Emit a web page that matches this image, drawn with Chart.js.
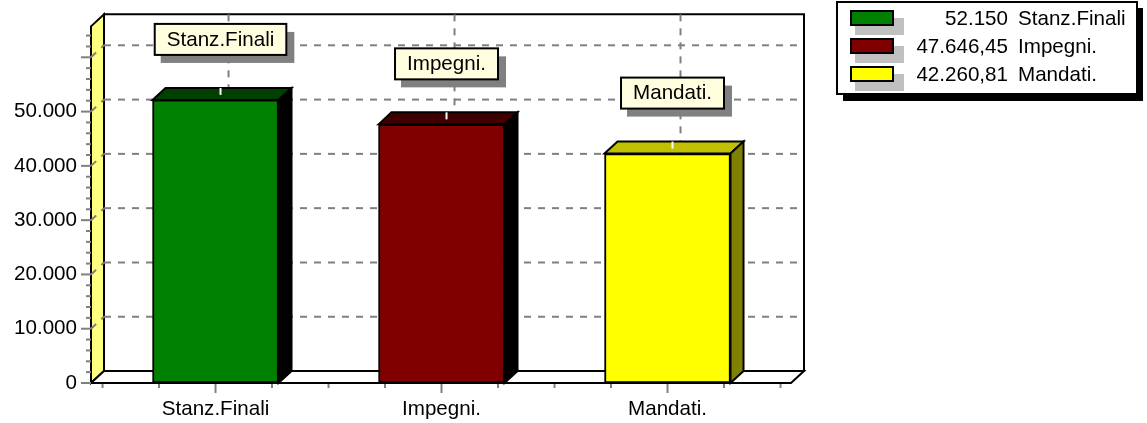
<!DOCTYPE html>
<html>
<head>
<meta charset="utf-8">
<title>Stanziamenti</title>
<script src="https://cdn.jsdelivr.net/npm/chart.js@4"></script>
<style>
html,body{margin:0;padding:0;background:#fff;}
canvas{display:block;}
</style>
</head>
<body>
<canvas id="myChart" width="1147" height="423"></canvas>
<script>
var categories = ['Stanz.Finali', 'Impegni.', 'Mandati.'];
var values = [52150, 47646.45, 42260.81];
var valueLabels = ['52.150', '47.646,45', '42.260,81'];
var yTickLabels = ['0', '10.000', '20.000', '30.000', '40.000', '50.000'];
var frontColors = ['#008000', '#800000', '#ffff00'];
var topColors = ['#004000', '#400000', '#c0c000'];
var sideColors = ['#000000', '#000000', '#808000'];

var FAMILY = '"Liberation Sans", Arial, sans-serif';
var FONT = '20.6px ' + FAMILY;
var DX = 13, DY = -12;   // depth of the fake 3d box

function poly(ctx, pts, fill) {
    ctx.beginPath();
    ctx.moveTo(pts[0][0], pts[0][1]);
    for (var i = 1; i < pts.length; i++) {
        ctx.lineTo(pts[i][0], pts[i][1]);
    }
    ctx.closePath();
    if (fill) {
        ctx.fillStyle = fill;
        ctx.fill();
    }
    ctx.strokeStyle = '#000';
    ctx.lineWidth = 2;
    ctx.stroke();
}

function seg(ctx, x1, y1, x2, y2) {
    ctx.beginPath();
    ctx.moveTo(x1, y1);
    ctx.lineTo(x2, y2);
    ctx.stroke();
}

var box3d = {
    id: 'box3d',
    beforeDatasetsDraw: function(chart) {
        var ctx = chart.ctx, a = chart.chartArea;
        var yS = chart.scales.y, xS = chart.scales.x;
        var i, v, y, x;
        ctx.save();

        // walls and floor
        poly(ctx, [[a.left + DX, a.top + DY], [a.right + DX, a.top + DY], [a.right + DX, a.bottom + DY], [a.left + DX, a.bottom + DY]], '#fff');
        poly(ctx, [[a.left, a.top], [a.left + DX, a.top + DY], [a.left + DX, a.bottom + DY], [a.left, a.bottom]], '#ffff80');
        poly(ctx, [[a.left, a.bottom], [a.left + DX, a.bottom + DY], [a.right + DX, a.bottom + DY], [a.right, a.bottom]], '#fff');

        // dashed grid on the walls
        ctx.strokeStyle = '#808080';
        ctx.lineWidth = 2;
        ctx.setLineDash([7, 7]);
        for (v = 10000; v <= 60000; v += 10000) {
            y = yS.getPixelForValue(v);
            seg(ctx, a.left, y, a.left + DX, y + DY);
            seg(ctx, a.left + DX, y + DY, a.right + DX, y + DY);
        }
        for (i = 0; i < categories.length; i++) {
            x = xS.getPixelForValue(i) + DX;
            seg(ctx, x, a.top + DY, x, a.bottom + DY);
        }
        ctx.setLineDash([]);

        // axis ticks, long every 10.000 and every category
        for (v = 0; v <= 64000; v += 2000) {
            y = yS.getPixelForValue(v);
            seg(ctx, a.left, y, a.left - (v % 10000 == 0 ? 10 : 5), y);
        }
        for (v = -0.5; v <= 2.5; v += 0.25) {
            x = xS.getPixelForValue(v);
            seg(ctx, x, a.bottom, x, a.bottom + (v % 1 == 0 ? 10 : 5));
        }

        // bar top and side faces
        var bars = chart.getDatasetMeta(0).data;
        for (i = 0; i < bars.length; i++) {
            var b = bars[i], l = b.x - b.width / 2, r = b.x + b.width / 2;
            poly(ctx, [[l, b.y], [l + DX, b.y + DY], [r + DX, b.y + DY], [r, b.y]], topColors[i]);
            poly(ctx, [[r, b.y], [r + DX, b.y + DY], [r + DX, b.base + DY], [r, b.base]], sideColors[i]);
            ctx.strokeStyle = '#fff';
            seg(ctx, b.x + 5, b.y + DY, b.x + 5, b.y + DY + 7);
        }
        ctx.restore();
    },
    afterDatasetsDraw: function(chart) {
        var ctx = chart.ctx, a = chart.chartArea;
        var bars = chart.getDatasetMeta(0).data;
        var i;
        ctx.save();
        ctx.strokeStyle = '#000';
        ctx.lineWidth = 2;
        seg(ctx, a.left, a.bottom, a.right, a.bottom);

        // callout over each bar
        ctx.font = FONT;
        ctx.textBaseline = 'middle';
        ctx.textAlign = 'center';
        for (i = 0; i < bars.length; i++) {
            var w = ctx.measureText(categories[i]).width + 24;
            var cx = bars[i].x + 5, top = bars[i].y - 76;
            ctx.fillStyle = '#808080';
            ctx.fillRect(cx - w / 2 + 6, top + 8, w + 2, 31);
            ctx.fillStyle = '#ffffe0';
            ctx.fillRect(cx - w / 2, top, w, 31);
            ctx.strokeRect(cx - w / 2, top, w, 31);
            ctx.fillStyle = '#000';
            ctx.fillText(categories[i], cx, top + 16);
        }

        // legend box
        ctx.fillStyle = '#000';
        ctx.fillRect(843, 8, 300, 93);
        ctx.fillStyle = '#fff';
        ctx.fillRect(837, 2, 300, 92);
        ctx.strokeRect(837, 2, 300, 92);
        for (i = 0; i < categories.length; i++) {
            var y = 18 + i * 28;
            ctx.fillStyle = '#c0c0c0';
            ctx.fillRect(855, y, 49, 17);
            ctx.fillStyle = frontColors[i];
            ctx.fillRect(851, y - 7, 42, 14);
            ctx.strokeRect(851, y - 7, 42, 14);
            ctx.fillStyle = '#000';
            ctx.textAlign = 'right';
            ctx.fillText(valueLabels[i], 1008, y + 1);
            ctx.textAlign = 'left';
            ctx.fillText(categories[i], 1018, y + 1);
        }
        ctx.restore();
    }
};

var ctx = document.getElementById('myChart').getContext('2d');
var myChart = new Chart(ctx, {
    type: 'bar',
    data: {
        datasets: [{
            data: values.map(function(v, i) { return {x: i, y: v}; }),
            backgroundColor: frontColors,
            borderColor: '#000',
            borderWidth: 2,
            borderSkipped: false,
            barThickness: 126
        }]
    },
    plugins: [box3d],
    options: {
        responsive: false,
        animation: false,
        layout: {padding: {top: 25, right: 356, left: 0, bottom: 0}},
        plugins: {legend: {display: false}, tooltip: {enabled: false}},
        scales: {
            x: {
                type: 'linear',
                offset: false,
                min: -0.551,
                max: 2.5464,
                grid: {display: false, drawTicks: false},
                border: {display: false},
                afterFit: function(s) { s.height = 40; },
                afterBuildTicks: function(s) {
                    s.ticks = categories.map(function(c, i) { return {value: i}; });
                },
                ticks: {
                    autoSkip: false,
                    maxRotation: 0,
                    padding: 14,
                    color: '#000',
                    font: {family: FAMILY, size: 20.6},
                    callback: function(v) { return categories[v]; }
                }
            },
            y: {
                min: 0,
                max: 65700,
                grid: {display: false, drawTicks: false},
                border: {display: false},
                afterFit: function(s) { s.width = 91; },
                afterBuildTicks: function(s) {
                    s.ticks = yTickLabels.map(function(t, i) { return {value: i * 10000}; });
                },
                ticks: {
                    autoSkip: false,
                    padding: 14,
                    color: '#000',
                    font: {family: FAMILY, size: 20.6},
                    callback: function(v) { return yTickLabels[v / 10000]; }
                }
            }
        }
    }
});
</script>
</body>
</html>
